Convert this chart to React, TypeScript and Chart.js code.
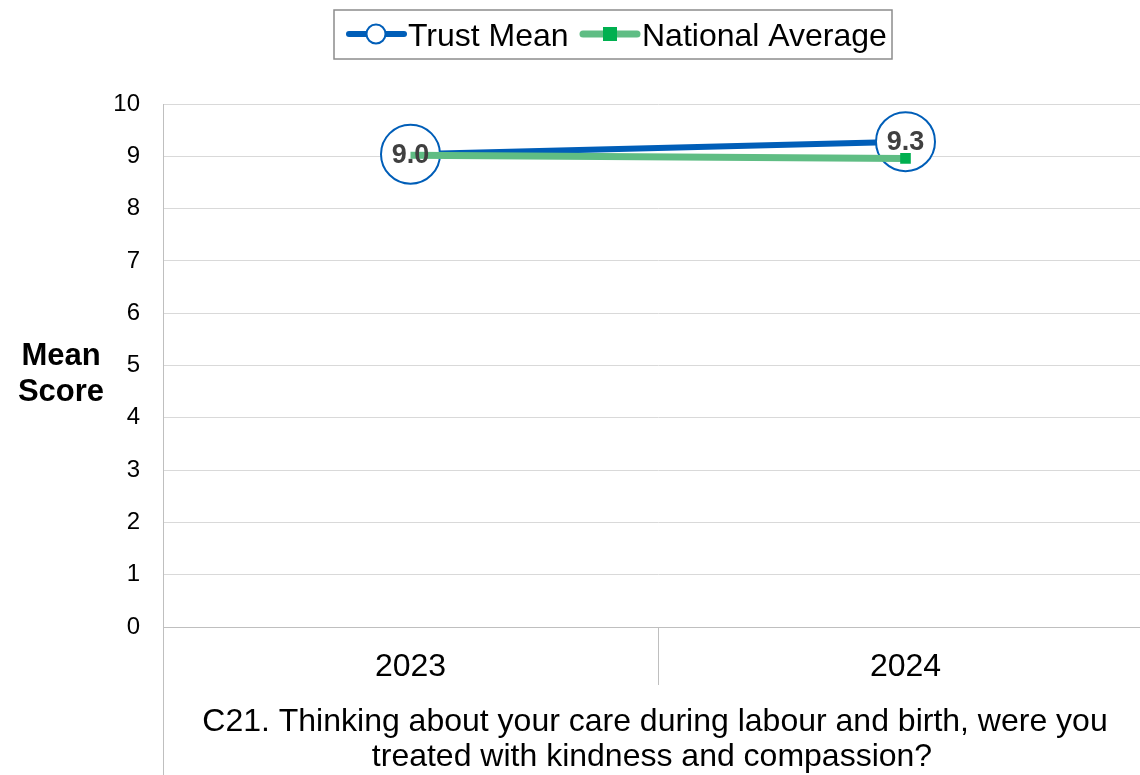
import React, { useEffect, useRef } from "react";
import { Chart, registerables } from "chart.js";

Chart.register(...registerables);

const categories = ["2023", "2024"];
const trustMean = [9.04, 9.28];
const nationalAverage = [9.02, 8.96];
const seriesNames = ["Trust Mean", "National Average"];
const yTitleLines = ["Mean", "Score"];
const xTitleLines = [
  "C21. Thinking about your care during labour and birth, were you",
  "treated with kindness and compassion?",
];

const FONT = "'Liberation Sans', Arial, Helvetica, sans-serif";
const BLUE = "#005EB8";
const GREEN_LINE = "#5FBD84";
const GREEN_MARK = "#00B050";
const AXIS_GRAY = "#BFBFBF";
const GRID_GRAY = "#D9D9D9";

const decorPlugin = {
  id: "decor",
  afterDatasetsDraw(chart: any) {
    const ctx = chart.ctx;
    const meta = chart.getDatasetMeta(1);
    ctx.save();
    ctx.font = `bold 27px ${FONT}`;
    ctx.fillStyle = "#404040";
    ctx.textAlign = "center";
    ctx.textBaseline = "middle";
    meta.data.forEach((pt: any, i: number) => {
      ctx.fillText(trustMean[i].toFixed(1), pt.x, pt.y + 1);
    });
    ctx.restore();
  },
  afterDraw(chart: any) {
    const { ctx, chartArea } = chart;
    ctx.save();
    // left axis line extended to bottom
    ctx.strokeStyle = AXIS_GRAY;
    ctx.lineWidth = 1;
    ctx.beginPath();
    ctx.moveTo(Math.round(chartArea.left) + 0.5, chartArea.top);
    ctx.lineTo(Math.round(chartArea.left) + 0.5, chart.height);
    ctx.stroke();
    // category separators below axis
    const xs = chart.scales.x;
    for (let i = 1; i < categories.length; i++) {
      const x = (xs.getPixelForValue(i - 1) + xs.getPixelForValue(i)) / 2;
      ctx.beginPath();
      ctx.moveTo(Math.round(x) + 0.5, chartArea.bottom);
      ctx.lineTo(Math.round(x) + 0.5, chartArea.bottom + 58);
      ctx.stroke();
    }
    // y title
    ctx.fillStyle = "#000";
    ctx.font = `bold 31px ${FONT}`;
    ctx.textAlign = "center";
    ctx.textBaseline = "middle";
    ctx.fillText(yTitleLines[0], 61, 356);
    ctx.fillText(yTitleLines[1], 61, 392);
    // x title
    ctx.font = `32px ${FONT}`;
    ctx.fillText(xTitleLines[0], 655, 722);
    ctx.fillText(xTitleLines[1], 652, 757);

    // legend
    ctx.strokeStyle = "#8C8C8C";
    ctx.lineWidth = 1.5;
    ctx.strokeRect(334, 10, 558, 49);
    const ly = 34;
    // trust sample
    ctx.strokeStyle = BLUE;
    ctx.lineWidth = 6;
    ctx.lineCap = "round";
    ctx.beginPath();
    ctx.moveTo(349, ly);
    ctx.lineTo(404, ly);
    ctx.stroke();
    ctx.lineWidth = 2;
    ctx.fillStyle = "#fff";
    ctx.beginPath();
    ctx.arc(376, ly, 9.5, 0, Math.PI * 2);
    ctx.fill();
    ctx.stroke();
    // national sample
    ctx.strokeStyle = GREEN_LINE;
    ctx.lineWidth = 7;
    ctx.beginPath();
    ctx.moveTo(583, ly);
    ctx.lineTo(637, ly);
    ctx.stroke();
    ctx.fillStyle = GREEN_MARK;
    ctx.fillRect(603, ly - 7, 14, 14);
    // legend text
    ctx.fillStyle = "#000";
    ctx.font = `32px ${FONT}`;
    ctx.textAlign = "left";
    ctx.textBaseline = "alphabetic";
    ctx.fillText(seriesNames[0], 408, 46);
    ctx.fillText(seriesNames[1], 642, 46);
    ctx.restore();
  },
};

export default function App() {
  const ref = useRef<HTMLCanvasElement | null>(null);

  useEffect(() => {
    document.body.style.margin = "0";
    document.body.style.overflow = "hidden";
    const canvas = ref.current;
    if (!canvas) return;
    const chart = new Chart(canvas, {
      type: "line",
      data: {
        labels: categories,
        datasets: [
          {
            label: seriesNames[1],
            data: nationalAverage,
            borderColor: GREEN_LINE,
            borderWidth: 7,
            pointStyle: "rect",
            pointRadius: [0, 7.5],
            pointBackgroundColor: GREEN_MARK,
            pointBorderColor: GREEN_MARK,
            pointBorderWidth: 0,
            order: 1,
          },
          {
            label: seriesNames[0],
            data: trustMean,
            borderColor: BLUE,
            borderWidth: 6,
            pointStyle: "circle",
            pointRadius: 29.5,
            pointBackgroundColor: "#FFFFFF",
            pointBorderColor: BLUE,
            pointBorderWidth: 2,
            order: 2,
          },
        ],
      },
      options: {
        responsive: false,
        animation: false,
        events: [],
        layout: { autoPadding: false, padding: { top: 104, right: 7, left: 0, bottom: 0 } },
        plugins: {
          legend: { display: false },
          tooltip: { enabled: false },
          title: { display: false },
        },
        scales: {
          x: {
            type: "category",
            offset: true,
            grid: { display: false, drawOnChartArea: false },
            border: { display: true, color: AXIS_GRAY, width: 1 },
            ticks: {
              color: "#000",
              font: { family: FONT, size: 32 },
              padding: 13,
              maxRotation: 0,
            },
            afterFit(scale: any) {
              scale.height = 148;
              scale.paddingLeft = 0;
              scale.paddingRight = 0;
            },
          },
          y: {
            min: 0,
            max: 10,
            ticks: {
              stepSize: 1,
              color: "#000",
              font: { family: FONT, size: 24 },
              padding: 23,
            },
            grid: { color: GRID_GRAY, drawTicks: false, lineWidth: 1 },
            border: { display: true, color: AXIS_GRAY, width: 1 },
            afterFit(scale: any) {
              scale.width = 163;
            },
          },
        },
      },
      plugins: [decorPlugin],
    });
    return () => chart.destroy();
  }, []);

  return (
    <div style={{ position: "fixed", left: 0, top: 0, width: 1140, height: 775, overflow: "hidden", background: "#fff" }}>
      <canvas ref={ref} width={1160} height={775} style={{ display: "block", width: 1160, height: 775 }} />
    </div>
  );
}
